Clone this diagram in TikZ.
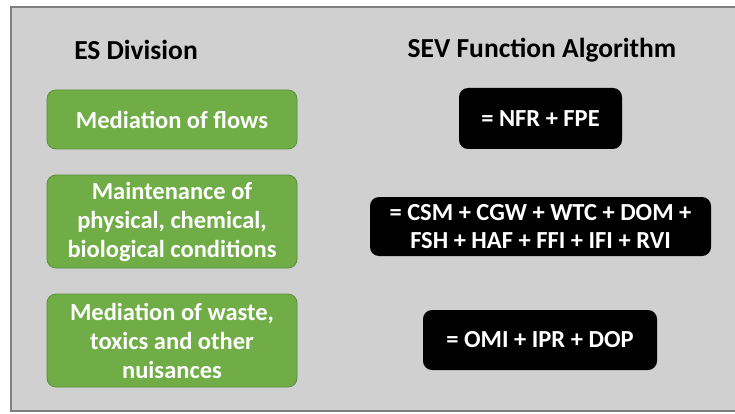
\documentclass[tikz,border=0pt]{standalone}
\usepackage{fontspec}
\setmainfont{Carlito}
\definecolor{panelgray}{HTML}{D0D0D0}
\definecolor{framegray}{HTML}{7F7F7F}
\definecolor{esgreen}{HTML}{70AD47}
\definecolor{esgreenedge}{HTML}{5A8F3A}
\tikzset{
  heading/.style={font=\bfseries\fontsize{27.5}{32}\selectfont, text=black, anchor=center},
  divbox/.style={draw=esgreenedge, line width=0.8pt, fill=esgreen, rounded corners=9pt,
    text=white, font=\bfseries\fontsize{24.5}{29}\selectfont, align=center,
    minimum width=250pt, inner sep=0pt},
  algbox/.style={fill=black, rounded corners=9pt, text=white,
    font=\bfseries\fontsize{24.5}{28}\selectfont, align=center, inner sep=0pt}
}
\begin{document}
\begin{tikzpicture}[x=1pt,y=-1pt]
  \useasboundingbox (0,0) rectangle (735,414);
  % panel with its frame
  \fill[white] (0,0) rectangle (735,414);
  \fill[panelgray] (10,6) rectangle (735,412);
  \draw[framegray, line width=1.6pt] (735,6.8) -- (10.8,6.8) -- (10.8,411.2) -- (735,411.2);

  % column headings
  \node[heading] (hdiv) at (136,50) {ES Division};
  \node[heading] (halg) at (542,50) {SEV Function Algorithm};

  % ES divisions
  \node[divbox, minimum height=59pt] (d1) at (172,119.5) {Mediation of flows};
  \node[divbox, minimum height=93pt] (d2) at (172,221.5) {Maintenance of\\physical, chemical,\\biological conditions};
  \node[divbox, minimum height=93pt] (d3) at (172,340.5) {Mediation of waste,\\toxics and other\\nuisances};

  % function algorithms
  \node[algbox, minimum width=163pt, minimum height=61pt] (a1) at (540.5,118.5) {= NFR + FPE};
  \node[algbox, minimum width=341pt, minimum height=59pt] (a2) at (540.5,226.5) {= CSM + CGW + WTC + DOM +\\FSH + HAF + FFI + IFI + RVI};
  \node[algbox, minimum width=234pt, minimum height=60pt] (a3) at (540,340) {= OMI + IPR + DOP};
\end{tikzpicture}
\end{document}
